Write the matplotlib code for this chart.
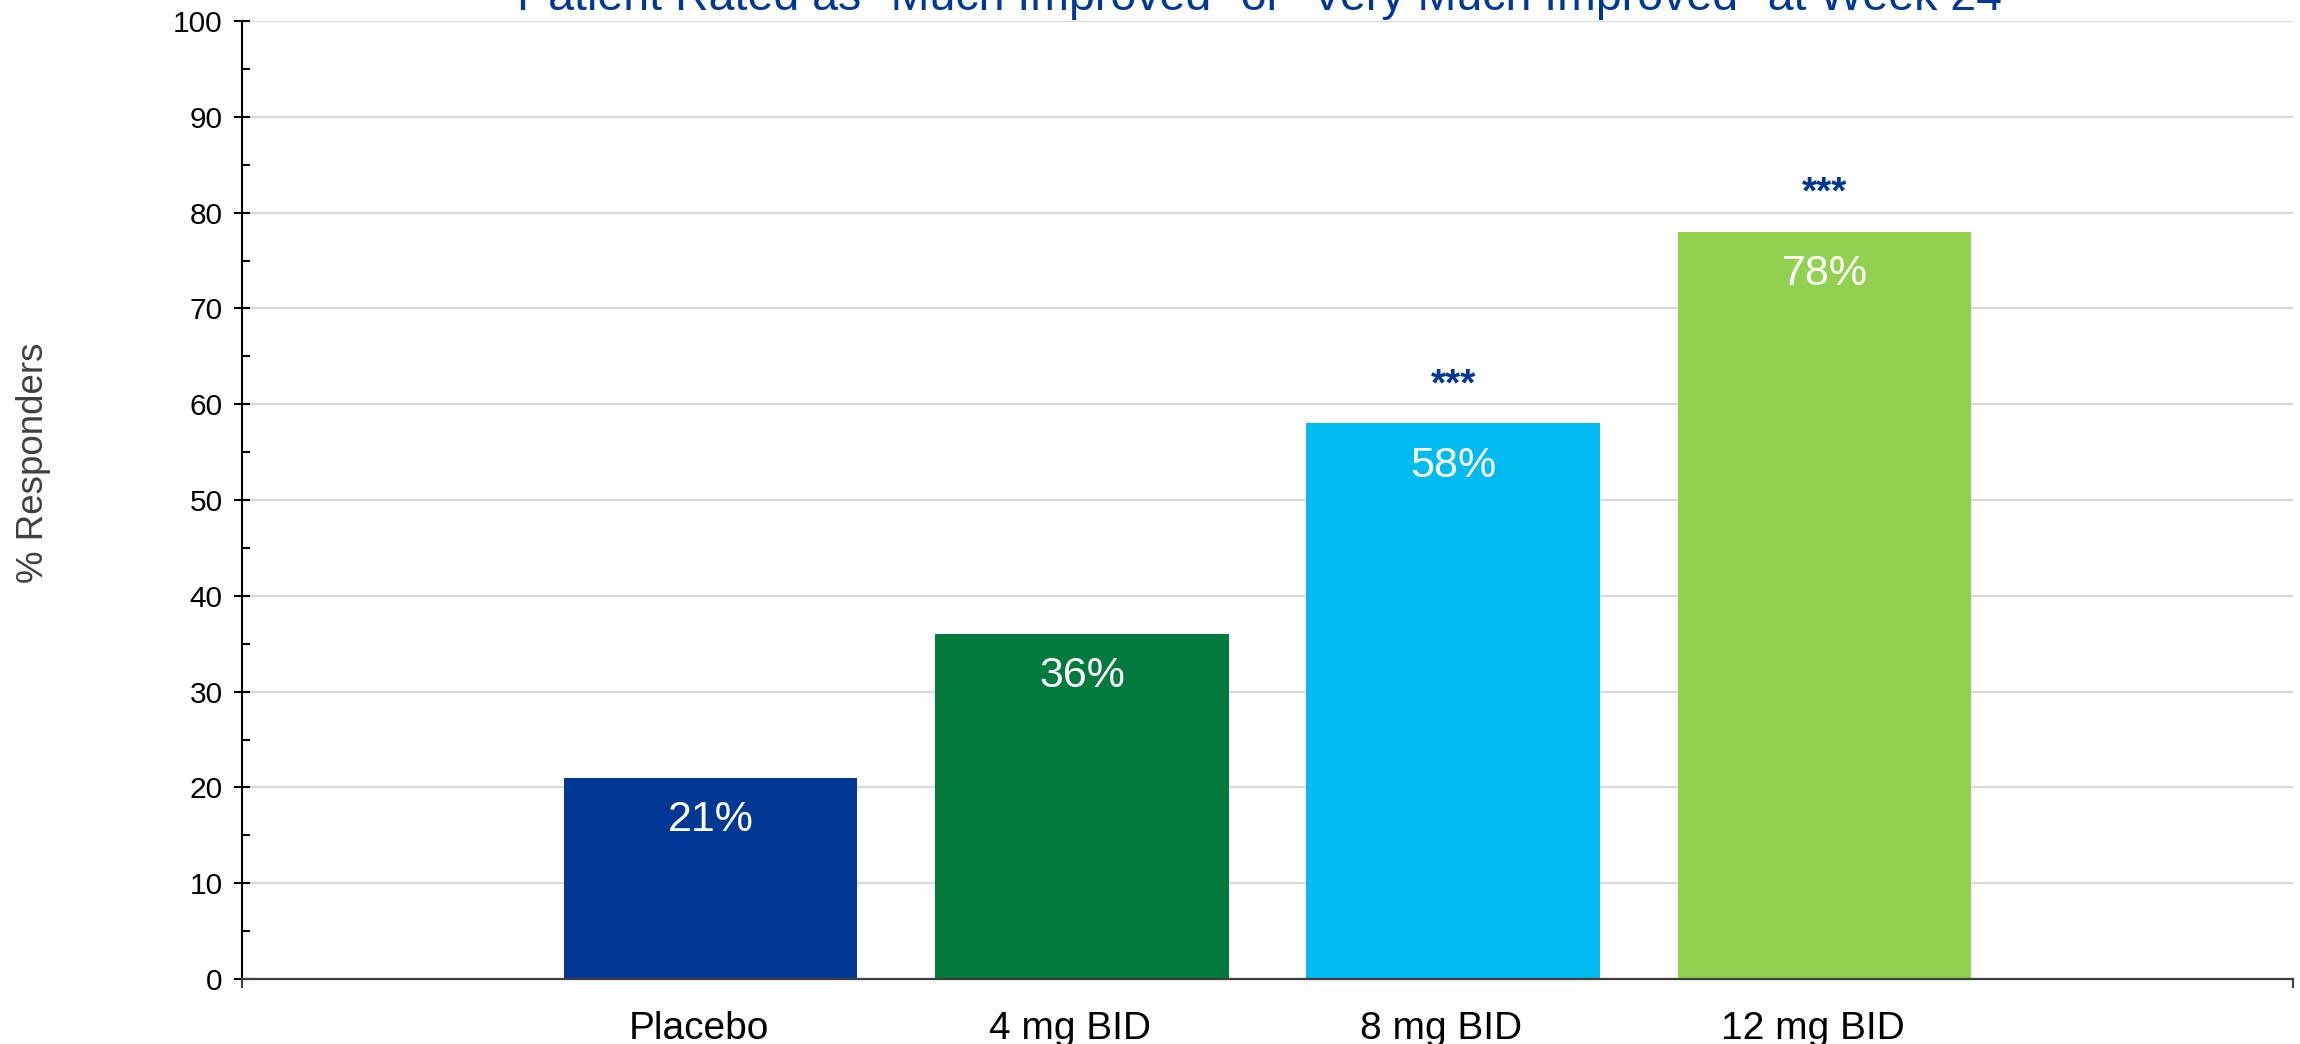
import matplotlib
matplotlib.use("Agg")
import matplotlib.pyplot as plt
from matplotlib.ticker import MultipleLocator, FixedLocator
from matplotlib.transforms import ScaledTranslation

# Responder rates by treatment arm (%)
categories = ["Placebo", "4 mg BID", "8 mg BID", "12 mg BID"]
responders = [21, 36, 58, 78]
value_labels = ["21%", "36%", "58%", "78%"]
significance = ["", "", "***", "***"]
bar_colors = ["#003893", "#007A3D", "#00BBF0", "#92D050"]
y_ticks = [0, 10, 20, 30, 40, 50, 60, 70, 80, 90, 100]

title = 'Patient Rated as "Much Improved" or "Very Much Improved" at Week 24'
accent = "#003893"

plt.rcParams["font.family"] = ["Liberation Sans", "DejaVu Sans"]

W, H, DPI = 2300, 1044, 100
fig = plt.figure(figsize=(W / DPI, H / DPI), dpi=DPI, facecolor="white")
ax = fig.add_axes([242 / W, 1 - 979 / H, (2293 - 242) / W, (979 - 21) / H])

x = list(range(len(categories)))
ax.bar(x, responders, width=0.79, color=bar_colors, zorder=2)

ax.set_xlim(-1.262, len(categories) - 1 + 1.262)
ax.set_ylim(0, 100)

# value labels inside bars, significance markers above
for xi, v, lab, sig in zip(x, responders, value_labels, significance):
    ax.text(xi, v - 4.4, lab, ha="center", va="center", color="white",
            fontsize=31, zorder=3)
    if sig:
        ax.text(xi, v + 2.9, sig, ha="center", va="baseline", color=accent,
                fontsize=28, fontweight="bold", zorder=3)

# y axis
ax.yaxis.set_major_locator(FixedLocator(y_ticks))
ax.yaxis.set_minor_locator(MultipleLocator(5))
ax.tick_params(axis="y", which="major", direction="inout", length=12,
               width=1.5, labelsize=21.5, pad=8, colors="black")
ax.tick_params(axis="y", which="minor", direction="in", length=6, width=1.5)
ax.grid(axis="y", which="major", color="#D9D9D9", linewidth=1.6, zorder=0)
ax.set_axisbelow(True)

# x axis: category labels, end ticks only
ax.set_xticks(x)
ax.set_xticklabels(categories, fontsize=28)
ax.tick_params(axis="x", which="major", length=0, pad=23)
shift = ScaledTranslation(-12 / DPI, 0, fig.dpi_scale_trans)
for lbl in ax.get_xticklabels():
    lbl.set_transform(lbl.get_transform() + shift)
ax.xaxis.set_minor_locator(FixedLocator(list(ax.get_xlim())))
ax.tick_params(axis="x", which="minor", direction="out", length=6.5,
               width=1.5, color="#3f3f3f")

for side in ("top", "right"):
    ax.spines[side].set_visible(False)
ax.spines["left"].set_color("black")
ax.spines["left"].set_linewidth(1.5)
ax.spines["bottom"].set_color("#3f3f3f")
ax.spines["bottom"].set_linewidth(1.6)
ax.spines["bottom"].set_zorder(4)

fig.text(34 / W, 1 - 463 / H, "% Responders", rotation=90, ha="center",
         va="center", fontsize=26.5, color="#404040")
fig.text(1260 / W, 1 - 10 / H, title, ha="center", va="baseline",
         fontsize=33.5, color=accent)

fig.savefig("out.png", dpi=DPI, facecolor="white")
